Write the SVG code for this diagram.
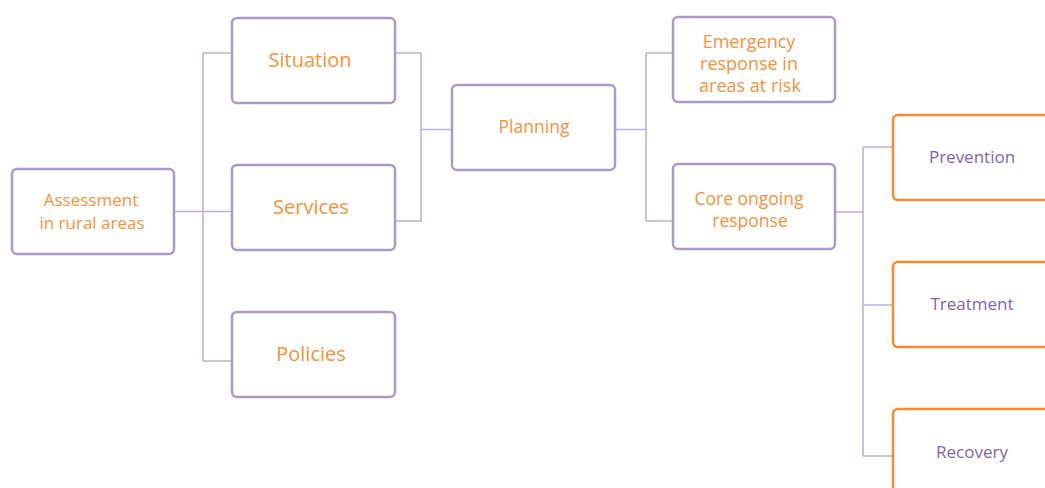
<svg xmlns="http://www.w3.org/2000/svg" width="1045" height="488" viewBox="0 0 1045 488">
<style>
.box{fill:#fff;stroke:#A99BC9;stroke-width:2.5}
.obox{fill:#fff;stroke:#F68B2A;stroke-width:2.5}
.t{font-family:"Open Sans","Liberation Sans",sans-serif;fill:#F7923A;text-anchor:middle}
.tp{font-family:"Open Sans","Liberation Sans",sans-serif;fill:#7B66A8;text-anchor:middle;font-size:17px}
.c{fill:none;stroke:#BDB2D6;stroke-width:1.6}
</style>
<rect width="1045" height="488" fill="#fff"/>
<g id="connectors">
<path class="c" d="M174 211.5H232M203 53V361M203 53H232M203 361H232"/>
<path class="c" d="M395 53H421V221H395M421 129.5H452"/>
<path class="c" d="M615 129.5H646M646 53V221M646 53H673M646 221H673"/>
<path class="c" d="M835 212H863M863 147V456M863 147H893M863 305H893M863 456H893"/>
</g>
<g id="assessment"><rect class="box" x="12" y="169" width="162" height="85" rx="5"/><text class="t" font-size="17" x="91" y="206">Assessment</text><text class="t" font-size="17" x="92" y="229">in rural areas</text></g>
<g id="situation"><rect class="box" x="232" y="18" width="163" height="85" rx="5"/><text class="t" font-size="20" x="310" y="67">Situation</text></g>
<g id="services"><rect class="box" x="232" y="165" width="163" height="85" rx="5"/><text class="t" font-size="20" x="311" y="214">Services</text></g>
<g id="policies"><rect class="box" x="232" y="312" width="163" height="85" rx="5"/><text class="t" font-size="20" x="311" y="361">Policies</text></g>
<g id="planning"><rect class="box" x="452" y="85" width="163" height="85" rx="5"/><text class="t" font-size="17.5" x="534" y="133">Planning</text></g>
<g id="emergency"><rect class="box" x="673" y="17" width="162" height="85" rx="5"/><text class="t" font-size="18" x="749" y="48">Emergency</text><text class="t" font-size="18" x="749" y="70">response in</text><text class="t" font-size="18" x="750" y="92">areas at risk</text></g>
<g id="core"><rect class="box" x="673" y="164" width="162" height="85" rx="5"/><text class="t" font-size="17.5" x="749" y="205">Core ongoing</text><text class="t" font-size="17.5" x="750" y="227">response</text></g>
<g id="prevention"><rect class="obox" x="893" y="115" width="163" height="85" rx="5"/><text class="tp" x="972" y="163">Prevention</text></g>
<g id="treatment"><rect class="obox" x="893" y="262" width="163" height="85" rx="5"/><text class="tp" x="972" y="310">Treatment</text></g>
<g id="recovery"><rect class="obox" x="893" y="409" width="163" height="85" rx="5"/><text class="tp" x="972" y="458">Recovery</text></g>
</svg>
